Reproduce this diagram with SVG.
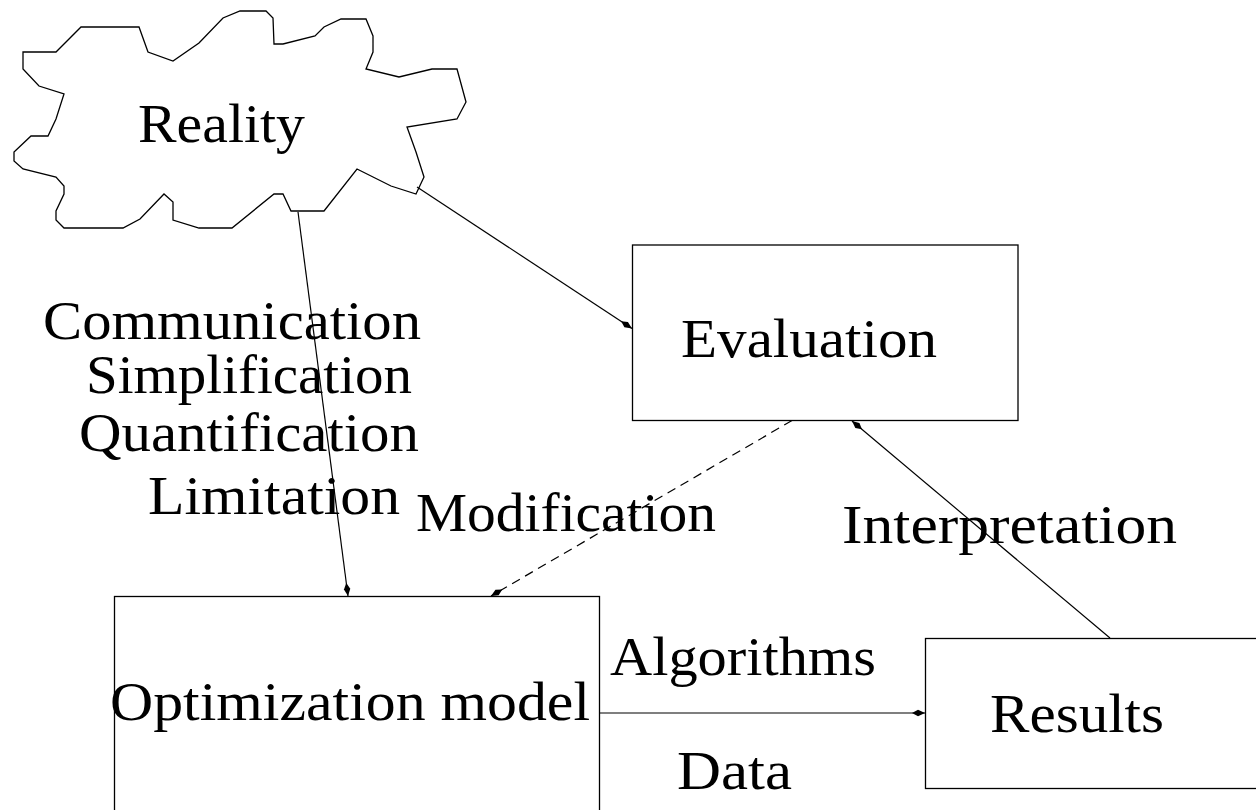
<svg xmlns="http://www.w3.org/2000/svg" width="1256" height="810" viewBox="0 0 1256 810">
<style>
.shape{fill:#fff;stroke:#000;stroke-width:1.3}
.lbl{font-family:"Liberation Serif","DejaVu Serif",serif;font-size:55px;fill:#000}
.con{fill:none;stroke:#000;stroke-width:1.2}
.dash{stroke-dasharray:9 6}
</style>
<defs>
<marker id="arr" markerUnits="userSpaceOnUse" markerWidth="16" markerHeight="10" viewBox="-14 -5 16 10" refX="0" refY="0" orient="auto">
<path d="M0,0 L-7,-3.2 L-13,0 L-7,3.2 Z" fill="#000"/>
</marker>
</defs>
<rect width="1256" height="810" fill="#fff"/>
<g id="reality">
<polygon class="shape" points="81,27 139,27 148,52 173,61 199,43 223,18 240,11 266,11 273,18 274,44 283,44 315,36 324,27 341,19 366,19 373,36 373,52 366,69 399,77 432,69 457,69 466,102 457,119 407,127 416,152 424,177 416,194 391,186 357,169 324,211 291,211 283,194 274,194 232,228 199,228 173,220 173,202 164,194 140,219 123,228 64,228 56,220 56,211 64,194 64,186 56,177 23,169 14,161 14,152 31,136 48,136 56,119 64,94 39,86 23,69 23,52 56,52"/>
<text class="lbl" x="138" y="142" textLength="167" lengthAdjust="spacingAndGlyphs">Reality</text>
</g>
<g id="evaluation">
<rect class="shape" x="632.5" y="245" width="385.5" height="175.5"/>
<text class="lbl" x="681" y="357" textLength="256" lengthAdjust="spacingAndGlyphs">Evaluation</text>
</g>
<g id="optimization">
<rect class="shape" x="114.5" y="596.5" width="485" height="230"/>
<text class="lbl" x="110" y="720" textLength="480" lengthAdjust="spacingAndGlyphs">Optimization model</text>
</g>
<g id="results">
<rect class="shape" x="925.5" y="638.5" width="340" height="150"/>
<text class="lbl" x="990" y="732" textLength="174" lengthAdjust="spacingAndGlyphs">Results</text>
</g>
<g id="connectors">
<line class="con" x1="298" y1="212" x2="348" y2="596" marker-end="url(#arr)"/>
<line class="con" x1="417" y1="187" x2="632" y2="328.5" marker-end="url(#arr)"/>
<line class="con dash" x1="792" y1="420.5" x2="491" y2="596" marker-end="url(#arr)"/>
<line class="con" x1="1110" y1="638" x2="852" y2="421" marker-end="url(#arr)"/>
<line class="con" x1="600" y1="713" x2="925" y2="713" marker-end="url(#arr)"/>
</g>
<g id="labels">
<text class="lbl" x="43" y="339" textLength="378" lengthAdjust="spacingAndGlyphs">Communication</text>
<text class="lbl" x="86" y="393" textLength="326" lengthAdjust="spacingAndGlyphs">Simplification</text>
<text class="lbl" x="79" y="451" textLength="340" lengthAdjust="spacingAndGlyphs">Quantification</text>
<text class="lbl" x="148" y="514" textLength="252" lengthAdjust="spacingAndGlyphs">Limitation</text>
<text class="lbl" x="416" y="531" textLength="300" lengthAdjust="spacingAndGlyphs">Modification</text>
<text class="lbl" x="842" y="543" textLength="335" lengthAdjust="spacingAndGlyphs">Interpretation</text>
<text class="lbl" x="610" y="675" textLength="266" lengthAdjust="spacingAndGlyphs">Algorithms</text>
<text class="lbl" x="677" y="789" textLength="115" lengthAdjust="spacingAndGlyphs">Data</text>
</g>
</svg>
